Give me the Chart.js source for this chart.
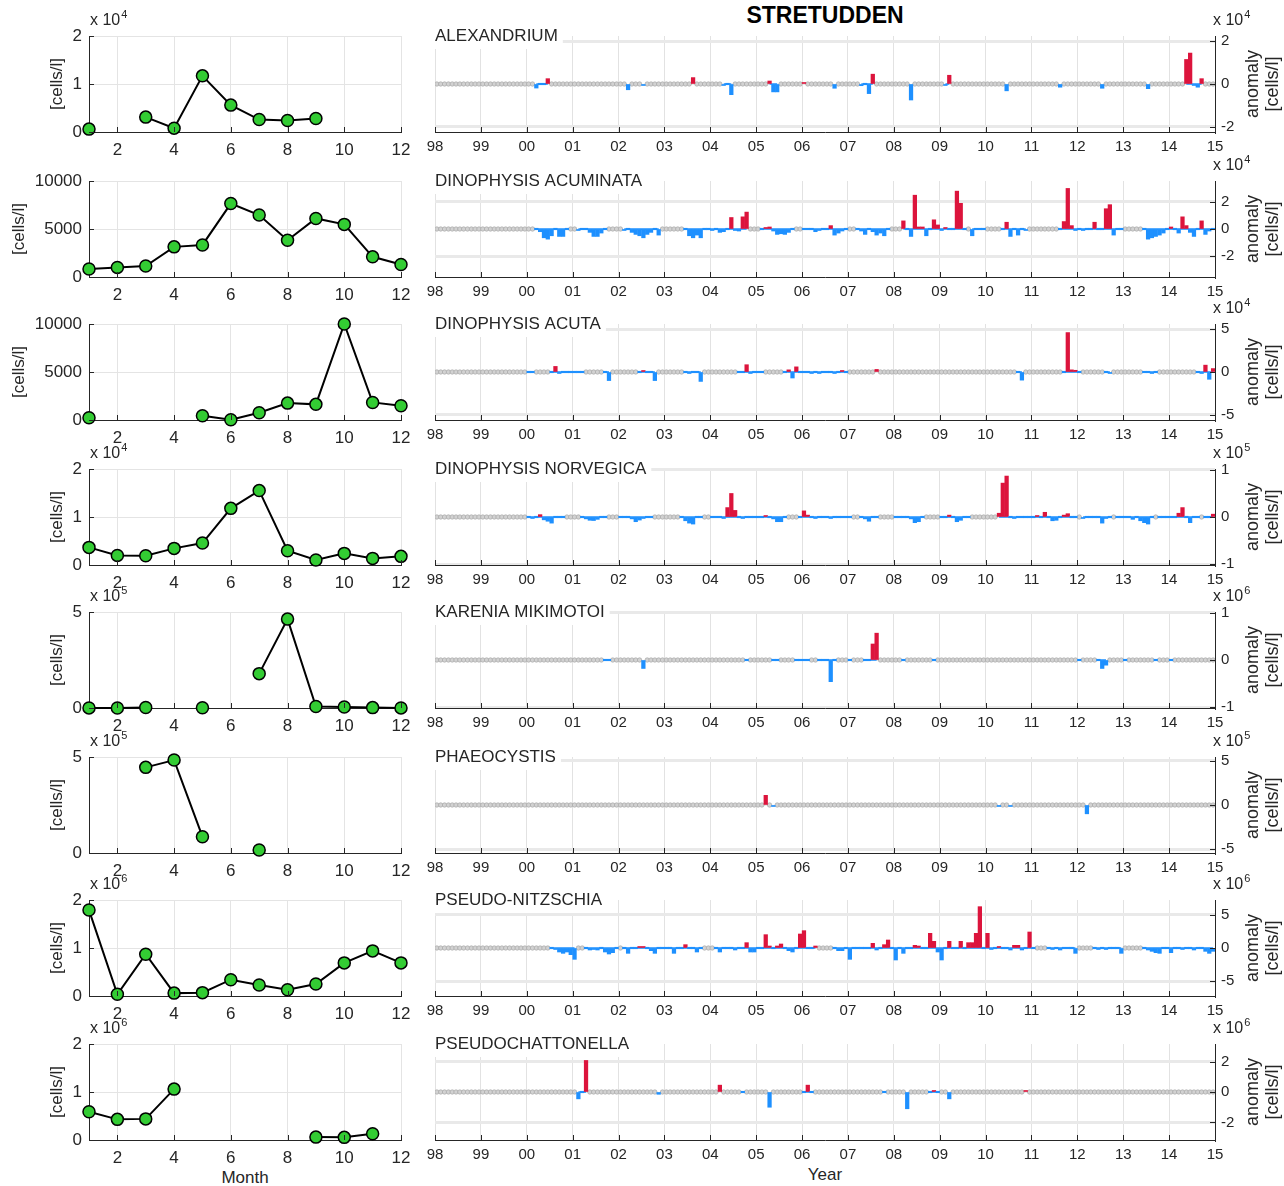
<!DOCTYPE html>
<html>
<head>
<meta charset="utf-8">
<title>STRETUDDEN</title>
<script src="https://cdn.jsdelivr.net/npm/chart.js@4.4.1/dist/chart.umd.min.js"></script>
<style>
  html, body { margin: 0; padding: 0; background: #fff; }
  body { width: 1284px; height: 1186px; position: relative; overflow: hidden;
         font-family: "Liberation Sans", Arial, Helvetica, sans-serif; color: #262626; }
  canvas { position: absolute; }
  .lbl { position: absolute; white-space: nowrap; transform: translateX(-50%); }
  #title { left: 825px; top: 2px; font-weight: bold; font-size: 23px; color: #000; }
  #month { left: 245px; top: 1168px; font-size: 17px; }
  #year  { left: 825px; top: 1165px; font-size: 17px; }
</style>
</head>
<body>
<div id="title" class="lbl">STRETUDDEN</div>
<div id="month" class="lbl">Month</div>
<div id="year" class="lbl">Year</div>
<script>
// ---------- categories and tick labels ----------
const speciesNames = ['ALEXANDRIUM', 'DINOPHYSIS ACUMINATA', 'DINOPHYSIS ACUTA', 'DINOPHYSIS NORVEGICA',
                      'KARENIA MIKIMOTOI', 'PHAEOCYSTIS', 'PSEUDO-NITZSCHIA', 'PSEUDOCHATTONELLA'];
const months = [1, 2, 3, 4, 5, 6, 7, 8, 9, 10, 11, 12];
const monthTicks = [2, 4, 6, 8, 10, 12];
const yearTicks = [1998, 1999, 2000, 2001, 2002, 2003, 2004, 2005, 2006, 2007, 2008, 2009, 2010, 2011, 2012, 2013, 2014, 2015];
const yearLabels = ['98', '99', '00', '01', '02', '03', '04', '05', '06', '07', '08', '09', '10', '11', '12', '13', '14', '15'];

// ---------- monthly climatology, cells/l (null = no samples) ----------
const climAlexandrium = [600, null, 3100, 800, 11700, 5600, 2600, 2400, 2800, null, null, null];
const climAcuminata   = [830, 1000, 1140, 3140, 3340, 7650, 6450, 3830, 6100, 5480, 2100, 1310];
const climAcuta       = [240, null, null, null, 450, 30, 760, 1760, 1630, 10000, 1830, 1490];
const climNorvegica   = [3670, 2000, 1940, 3460, 4570, 11800, 15500, 2980, 1040, 2420, 1380, 1800];
const climMikimotoi   = [500, 300, 3000, null, 1000, null, 179000, 463000, 8000, 5000, 2000, 500];
const climPhaeocystis = [null, null, 446000, 484000, 85000, null, 16000, null, null, null, null, null];
const climPseudoNitz  = [1790000, 35000, 870000, 60000, 70000, 340000, 230000, 130000, 250000, 690000, 940000, 690000];
const climPseudochat  = [590000, 430000, 440000, 1060000, null, null, null, null, 60000, 55000, 130000, null];

// ---------- sampling periods [fromYear, fromMonth, toYear, toMonth] ----------
const obsAlexandrium = [[2000,3,2000,6],[2002,3,2002,3],[2002,7,2002,7],[2003,8,2003,8],[2004,4,2004,6],[2005,4,2005,6],
  [2006,1,2006,1],[2006,9,2006,9],[2007,4,2007,7],[2008,5,2008,5],[2009,2,2009,3],[2010,6,2010,6],[2011,8,2011,8],
  [2012,7,2012,7],[2013,7,2013,7],[2014,5,2014,9]];
const obsAcuminata = [[2000,3,2000,11],[2001,2,2001,9],[2002,2,2002,11],[2003,6,2003,12],[2004,1,2004,10],[2005,2,2005,10],
  [2006,1,2006,12],[2007,3,2007,11],[2008,3,2009,7],[2009,9,2009,12],[2010,5,2010,11],[2011,8,2012,12],[2013,6,2014,12]];
const obsAcuta = [[2000,1,2000,2],[2000,7,2001,3],[2001,9,2001,10],[2002,6,2002,10],[2003,6,2003,10],[2004,8,2005,2],
  [2005,8,2006,12],[2007,8,2007,8],[2010,9,2010,10],[2011,9,2012,1],[2012,8,2012,9],[2013,6,2013,9],[2014,8,2014,12]];
const obsNorvegica = [[2000,1,2000,10],[2001,3,2001,9],[2002,1,2002,9],[2003,5,2003,10],[2004,1,2005,8],[2005,12,2007,1],
  [2007,4,2007,8],[2008,1,2008,8],[2009,1,2009,8],[2010,4,2011,12],[2012,2,2012,9],[2012,11,2013,8],[2013,10,2014,8],[2014,10,2014,12]];
const obsMikimotoi = [[2001,9,2001,10],[2002,7,2002,7],[2004,10,2004,10],[2005,5,2005,6],[2005,11,2006,2],[2006,5,2006,9],
  [2007,1,2007,1],[2007,5,2007,8],[2008,3,2008,3],[2008,11,2008,11],[2012,1,2012,1],[2012,6,2012,8],[2013,1,2013,1],
  [2013,9,2013,9],[2014,1,2014,1]];
const obsPhaeocystis = [[2005,3,2005,3],[2005,5,2005,5],[2010,4,2010,4],[2010,7,2010,7],[2012,3,2012,3]];
const obsPseudoNitz = [[2000,7,2001,1],[2001,4,2001,12],[2002,2,2003,10],[2004,2,2006,4],[2006,9,2011,1],[2011,5,2011,12],
  [2012,5,2012,12],[2013,6,2014,12]];
const obsPseudochat = [[2001,2,2001,4],[2002,11,2002,11],[2004,3,2004,3],[2004,9,2004,9],[2005,4,2005,4],[2006,1,2006,3],
  [2007,10,2007,10],[2008,4,2008,4],[2008,10,2008,12],[2009,3,2009,3],[2010,11,2010,11]];

// ---------- monthly anomalies [year, month, cells/l] ----------
const anomAlexandrium = [[2000,3,-1900],[2000,6,2500],[2002,3,-2700],[2002,7,-600],[2003,8,3000],[2004,4,-500],[2004,6,-5000],
  [2005,4,1400],[2005,5,-3700],[2005,6,-3700],[2006,1,500],[2006,9,-2000],[2007,4,-800],[2007,6,-4500],[2007,7,4600],
  [2008,5,-7500],[2009,2,-400],[2009,3,4100],[2010,6,-3200],[2011,8,-1500],[2012,7,-2000],[2013,7,-2200],
  [2014,5,11500],[2014,6,14500],[2014,7,-300],[2014,8,-1500],[2014,9,2500]];
const anomAcuminata = [[2000,4,-2000],[2000,5,-6500],[2000,6,-7500],[2000,7,-5000],[2000,9,-5500],[2000,10,-5500],
  [2001,2,-1000],[2001,5,-2500],[2001,6,-5500],[2001,7,-5500],[2001,8,-3000],
  [2002,2,-1000],[2002,4,-2500],[2002,5,-4000],[2002,6,-5000],[2002,7,-6500],[2002,8,-4000],[2002,9,-2500],[2002,11,-4500],
  [2003,7,-5000],[2003,8,-6500],[2003,9,-4500],[2003,10,-6500],
  [2004,1,-1000],[2004,3,-2500],[2004,4,-2000],[2004,6,8500],[2004,7,-1000],[2004,8,-1500],[2004,9,9000],[2004,10,12500],
  [2005,3,500],[2005,4,1500],[2005,5,-1500],[2005,6,-4000],[2005,7,-3500],[2005,8,-4000],[2005,9,-2500],
  [2006,4,-2000],[2006,5,-1000],[2006,8,2500],[2006,9,-4500],[2006,10,-3000],[2006,11,-1500],
  [2007,4,-1500],[2007,5,-4000],[2007,7,-2000],[2007,8,-4500],[2007,9,-3000],[2007,10,-5000],
  [2008,3,6000],[2008,5,-5500],[2008,6,25000],[2008,7,1500],[2008,8,1500],[2008,9,-5000],[2008,11,6800],[2008,12,3000],
  [2009,1,-1000],[2009,2,500],[2009,5,28000],[2009,6,19000],[2009,9,-5000],
  [2010,6,5000],[2010,7,-5500],[2010,9,-4500],[2010,11,-1000],
  [2011,9,5500],[2011,10,30000],[2011,11,2500],[2011,12,-1000],
  [2012,2,-500],[2012,5,5000],[2012,8,15000],[2012,9,18000],[2012,10,-4500],
  [2013,7,-7500],[2013,8,-6500],[2013,9,-5500],[2013,10,-4500],[2013,11,-3000],
  [2014,1,1500],[2014,3,-3000],[2014,4,9000],[2014,5,2500],[2014,6,-2500],[2014,7,-5500],[2014,9,6000],[2014,10,-4000],[2014,11,-1500]];
const anomAcuta = [[2000,8,6500],[2000,9,-800],[2001,10,-10000],[2002,7,1500],[2002,10,-10000],[2003,7,-800],[2003,10,-11000],
  [2004,10,8500],[2004,11,-800],[2005,9,2500],[2005,10,-7000],[2005,11,6000],[2006,3,-600],[2006,5,-500],[2006,9,-400],
  [2006,11,1200],[2007,8,3000],[2010,10,-9500],[2011,10,46000],[2011,11,2500],[2011,12,2000],[2012,9,-800],[2013,8,-1000],
  [2014,9,-500],[2014,10,8000],[2014,11,-8500],[2014,12,4000]];
const anomNorvegica = [[2000,2,-1500],[2000,4,5000],[2000,5,-6000],[2000,6,-9000],[2000,7,-13000],
  [2001,4,-4000],[2001,5,-7000],[2001,6,-7500],[2001,7,-5000],
  [2002,4,-4000],[2002,5,-10000],[2002,6,-6500],[2002,7,-3000],
  [2003,6,-8000],[2003,7,-13000],[2003,8,-15000],
  [2004,4,-2000],[2004,5,20000],[2004,6,50000],[2004,7,14000],[2004,9,-1000],
  [2005,3,3000],[2005,5,-4000],[2005,6,-10000],[2005,7,-10000],
  [2006,1,13000],[2006,2,4000],[2006,4,-2000],[2006,8,-2000],
  [2007,5,-4000],[2007,6,-9000],[2008,5,-4000],[2008,6,-12000],[2008,7,-10000],
  [2009,3,4000],[2009,5,-10000],[2009,6,-7000],
  [2010,4,8000],[2010,5,72000],[2010,6,87000],[2010,8,-2000],
  [2011,2,3000],[2011,4,10000],[2011,6,-8000],[2011,7,-7000],[2011,9,4000],[2011,10,7000],
  [2012,2,-3000],[2012,7,-13000],[2012,8,-3000],
  [2013,3,-5000],[2013,5,-8000],[2013,6,-12000],[2013,7,-15000],
  [2014,3,8000],[2014,4,20000],[2014,6,-12000],[2014,12,6000]];
const anomMikimotoi = [[2002,7,-180000],[2006,8,-460000],[2007,7,340000],[2007,8,570000],[2012,7,-180000],[2012,8,-110000]];
const anomPhaeocystis = [[2005,3,110000],[2005,5,-3000],[2010,4,-3000],[2010,7,-3000],[2012,3,-100000]];
const anomPseudoNitz = [[2000,8,-100000],[2000,9,-600000],[2000,10,-800000],[2000,11,-600000],[2000,12,-1000000],
  [2001,1,-1700000],[2001,5,-300000],[2001,6,-200000],[2001,7,-300000],[2001,9,-600000],[2001,10,-900000],[2001,11,-700000],
  [2002,3,-800000],[2002,6,200000],[2002,7,100000],[2002,9,-400000],[2002,10,-800000],
  [2003,3,-800000],[2003,6,500000],[2003,9,-600000],
  [2004,3,-600000],[2004,7,-300000],[2004,10,800000],[2004,11,-600000],[2004,12,-600000],
  [2005,3,2000000],[2005,4,300000],[2005,6,300000],[2005,7,600000],[2005,9,-400000],[2005,10,-600000],[2005,12,2100000],
  [2006,1,2600000],[2006,4,300000],[2006,10,-400000],[2006,11,-400000],
  [2007,1,-1700000],[2007,7,700000],[2007,8,-300000],[2007,10,500000],[2007,11,1200000],
  [2008,1,-1800000],[2008,3,-800000],[2008,6,400000],[2008,7,300000],[2008,10,2200000],[2008,11,1000000],[2008,12,-600000],
  [2009,1,-1800000],[2009,3,1000000],[2009,6,1000000],[2009,8,800000],[2009,9,800000],[2009,10,2200000],[2009,11,6200000],
  [2010,1,2200000],[2010,2,-100000],[2010,4,200000],[2010,7,-300000],[2010,8,400000],[2010,9,400000],[2010,10,-300000],[2010,12,2400000],
  [2011,6,-200000],[2011,8,-300000],[2011,12,-800000],
  [2012,6,-200000],[2012,8,-200000],[2012,12,-800000],
  [2013,7,-300000],[2013,8,-500000],[2013,9,-700000],[2013,10,-800000],
  [2014,1,-700000],[2014,4,-200000],[2014,7,-300000],[2014,10,-500000],[2014,11,-800000],[2014,12,-500000]];
const anomPseudochat = [[2001,2,-450000],[2001,4,2070000],[2002,11,-150000],[2004,3,450000],[2005,4,-1000000],
  [2006,2,450000],[2008,4,-1100000],[2008,11,100000],[2009,3,-450000],[2010,11,100000]];

// ---------- axis settings per row ----------
const leftMax = [2e4, 1e4, 1e4, 2e4, 5e5, 5e5, 2e6, 2e6];
const leftTickValues = [[0, 1e4, 2e4], [0, 5000, 10000], [0, 5000, 10000], [0, 1e4, 2e4], [0, 5e5], [0, 5e5], [0, 1e6, 2e6], [0, 1e6, 2e6]];
const leftExponent = [4, 0, 0, 4, 5, 5, 6, 6];
const rightLimit = [2.25e4, 3.55e4, 5.6e4, 1.02e5, 1.02e6, 5.45e5, 7.2e6, 3.15e6];
const rightTickValues = [[-2e4, 0, 2e4], [-2e4, 0, 2e4], [-5e4, 0, 5e4], [-1e5, 0, 1e5], [-1e6, 0, 1e6], [-5e5, 0, 5e5], [-5e6, 0, 5e6], [-2e6, 0, 2e6]];
const rightExponent = [4, 4, 4, 5, 6, 5, 6, 6];

const climSeries = [climAlexandrium, climAcuminata, climAcuta, climNorvegica, climMikimotoi, climPhaeocystis, climPseudoNitz, climPseudochat];
const obsSeries = [obsAlexandrium, obsAcuminata, obsAcuta, obsNorvegica, obsMikimotoi, obsPhaeocystis, obsPseudoNitz, obsPseudochat];
const anomSeries = [anomAlexandrium, anomAcuminata, anomAcuta, anomNorvegica, anomMikimotoi, anomPhaeocystis, anomPseudoNitz, anomPseudochat];

// ---------- layout ----------
const FONT = '"Liberation Sans", Arial, Helvetica, sans-serif';
const INK = '#262626';
const RED = '#dc143c';
const BLUE = '#1e90ff';
const rowTop = [36, 181, 324, 469, 612, 757, 900, 1044];
const PLOT_H = 96;
const TOP_PAD = 36;
const X_AXIS_H = 34;

Chart.defaults.font.family = FONT;
Chart.defaults.color = INK;

function tickText(v, exp) {
  return exp ? String(Math.round(v / Math.pow(10, exp) * 100) / 100) : String(v);
}

function drawExponent(ctx, x, y, exp) {
  ctx.fillStyle = INK;
  ctx.textAlign = 'left';
  ctx.textBaseline = 'alphabetic';
  ctx.font = '16px ' + FONT;
  ctx.fillText('x 10', x, y);
  const w = ctx.measureText('x 10').width;
  ctx.font = '11px ' + FONT;
  ctx.fillText(String(exp), x + w + 1, y - 7);
}

function drawRotated(ctx, text, x, y, size) {
  ctx.save();
  ctx.translate(x, y);
  ctx.rotate(-Math.PI / 2);
  ctx.font = size + 'px ' + FONT;
  ctx.fillStyle = INK;
  ctx.textAlign = 'center';
  ctx.textBaseline = 'middle';
  ctx.fillText(text, 0, 0);
  ctx.restore();
}

// inward tick marks, exponent labels, axis titles and panel names
const decor = {
  id: 'decor',
  afterDraw(chart, args, o) {
    const ctx = chart.ctx, a = chart.chartArea;
    const xs = chart.scales.x, ys = chart.scales.y;
    ctx.save();
    ctx.strokeStyle = INK;
    ctx.lineWidth = 1;
    ctx.beginPath();
    xs.ticks.forEach(t => {
      const p = Math.round(xs.getPixelForValue(t.value)) + 0.5;
      ctx.moveTo(p, a.bottom); ctx.lineTo(p, a.bottom - 5);
    });
    ys.ticks.forEach(t => {
      const p = Math.round(ys.getPixelForValue(t.value)) + 0.5;
      if (o.side === 'left') { ctx.moveTo(a.left, p); ctx.lineTo(a.left + 5, p); }
      else { ctx.moveTo(a.right, p); ctx.lineTo(a.right - 5, p); }
    });
    ctx.stroke();

    const midY = (a.top + a.bottom) / 2;
    if (o.side === 'left') {
      ctx.font = '17px ' + FONT;
      let maxW = 0;
      ys.ticks.forEach(t => { maxW = Math.max(maxW, ctx.measureText(t.label).width); });
      const labelLeft = a.left - 7 - maxW;
      drawRotated(ctx, o.yTitle, labelLeft - 15, midY, 17);
      if (o.exp) drawExponent(ctx, a.left + 1, a.top - 11, o.exp);
    } else {
      drawExponent(ctx, a.right - 2, a.top - 11, o.exp);
      drawRotated(ctx, 'anomaly', a.right + 38, midY, 18);
      drawRotated(ctx, '[cells/l]', a.right + 58, midY, 18);
      ctx.font = '17px ' + FONT;
      const w = ctx.measureText(o.name).width;
      ctx.fillStyle = '#fff';
      ctx.fillRect(a.left - 1, a.top - 12, w + 6, 25);
      ctx.fillStyle = INK;
      ctx.textAlign = 'left';
      ctx.textBaseline = 'middle';
      ctx.fillText(o.name, a.left, a.top);
    }
    ctx.restore();
  }
};

function makeCanvas(left, top, w, h) {
  const c = document.createElement('canvas');
  c.width = w; c.height = h;
  c.style.left = left + 'px'; c.style.top = top + 'px';
  c.style.width = w + 'px'; c.style.height = h + 'px';
  document.body.appendChild(c);
  return c;
}

function monthIndex(y, m) { return y * 12 + (m - 1); }

function buildAnomalyData(obs, anom) {
  const observed = new Set();
  obs.forEach(([y1, m1, y2, m2]) => {
    for (let k = monthIndex(y1, m1); k <= monthIndex(y2, m2); k++) observed.add(k);
  });
  const values = new Map();
  anom.forEach(([y, m, v]) => { values.set(monthIndex(y, m), v); observed.add(monthIndex(y, m)); });
  const bars = [], base = [], gaps = [];
  for (let k = monthIndex(yearTicks[0], 1); k < monthIndex(yearTicks[yearTicks.length - 1], 1); k++) {
    const x = Math.floor(k / 12) + ((k % 12) + 0.5) / 12;
    if (observed.has(k)) {
      bars.push({ x, y: values.has(k) ? values.get(k) : 0 });
      base.push({ x, y: 0 });
    } else {
      gaps.push({ x, y: 0 });
      base.push({ x, y: null });
    }
  }
  return { bars, base, gaps };
}

const common = {
  responsive: false,
  animation: false,
  devicePixelRatio: 1,
  events: []
};

speciesNames.forEach((name, r) => {
  // monthly climatology panel
  const lc = makeCanvas(0, rowTop[r] - TOP_PAD, 420, TOP_PAD + PLOT_H + X_AXIS_H);
  new Chart(lc, {
    type: 'line',
    data: {
      datasets: [{
        data: climSeries[r].map((v, i) => ({ x: months[i], y: v })),
        borderColor: '#000', borderWidth: 2, tension: 0, spanGaps: false, clip: false,
        pointRadius: 6, pointBackgroundColor: '#33cc33', pointBorderColor: '#000', pointBorderWidth: 1.5
      }]
    },
    options: Object.assign({}, common, {
      layout: { padding: { top: TOP_PAD, right: 19, bottom: 0, left: 0 }, autoPadding: false },
      plugins: { legend: { display: false }, tooltip: { enabled: false },
                 decor: { side: 'left', exp: leftExponent[r], yTitle: '[cells/l]' } },
      scales: {
        x: {
          type: 'linear', min: 1, max: 12,
          afterBuildTicks: s => { s.ticks = monthTicks.map(v => ({ value: v })); },
          afterFit: s => { s.height = X_AXIS_H; },
          ticks: { font: { size: 17 }, color: INK, padding: 8, maxRotation: 0, autoSkip: false },
          grid: { color: '#e4e4e4', drawTicks: false },
          border: { display: true, color: INK, width: 1 }
        },
        y: {
          type: 'linear', min: 0, max: leftMax[r],
          afterBuildTicks: s => { s.ticks = leftTickValues[r].map(v => ({ value: v })); },
          afterFit: s => { s.width = 89; },
          ticks: { font: { size: 17 }, color: INK, padding: 7, callback: v => tickText(v, leftExponent[r]) },
          grid: { color: '#e4e4e4', drawTicks: false },
          border: { display: true, color: INK, width: 1 }
        }
      }
    }),
    plugins: [decor]
  });

  // anomaly time-series panel
  const d = buildAnomalyData(obsSeries[r], anomSeries[r]);
  const rc = makeCanvas(420, rowTop[r] - TOP_PAD, 864, TOP_PAD + PLOT_H + X_AXIS_H);
  new Chart(rc, {
    type: 'bar',
    data: {
      datasets: [
        { type: 'bar', data: d.bars, barThickness: 3.6, minBarLength: 1.5, borderWidth: 0,
          backgroundColor: c => (c.raw && c.raw.y > 0) ? RED : BLUE },
        { type: 'line', data: d.base, borderColor: BLUE, borderWidth: 1.5, pointRadius: 0, spanGaps: false },
        { type: 'line', data: d.gaps, showLine: false, pointRadius: 2.2,
          pointBackgroundColor: '#d2d2d2', pointBorderColor: '#a8a8a8', pointBorderWidth: 0.7 }
      ]
    },
    options: Object.assign({}, common, {
      layout: { padding: { top: TOP_PAD, right: 0, bottom: 0, left: 15 }, autoPadding: false },
      plugins: { legend: { display: false }, tooltip: { enabled: false },
                 decor: { side: 'right', exp: rightExponent[r], name } },
      scales: {
        x: {
          type: 'linear', min: yearTicks[0], max: yearTicks[yearTicks.length - 1], offset: false,
          afterBuildTicks: s => { s.ticks = yearTicks.map(v => ({ value: v })); },
          afterFit: s => { s.height = X_AXIS_H; },
          ticks: { font: { size: 15 }, color: INK, padding: 6, maxRotation: 0, autoSkip: false,
                   callback: v => yearLabels[yearTicks.indexOf(v)] },
          grid: { color: '#e2e2e2', drawTicks: false, offset: false },
          border: { display: true, color: INK, width: 1 }
        },
        y: {
          type: 'linear', position: 'right', min: -rightLimit[r], max: rightLimit[r],
          afterBuildTicks: s => { s.ticks = rightTickValues[r].map(v => ({ value: v })); },
          afterFit: s => { s.width = 69; },
          ticks: { font: { size: 15 }, color: INK, padding: 6, callback: v => tickText(v, rightExponent[r]) },
          grid: { color: '#e9e9e9', drawTicks: false, lineWidth: c => (c.tick && c.tick.value === 0) ? 1 : 3 },
          border: { display: true, color: INK, width: 1 }
        }
      }
    }),
    plugins: [decor]
  });
});
</script>
</body>
</html>
